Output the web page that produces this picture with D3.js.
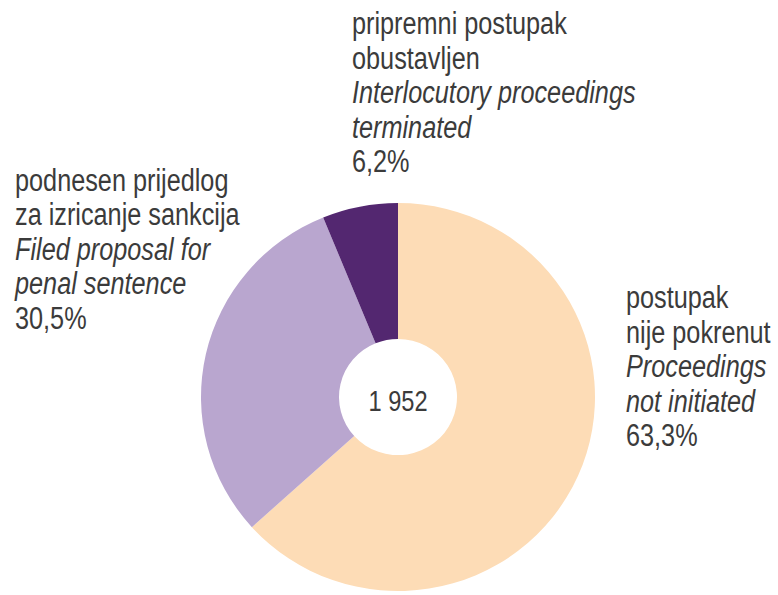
<!DOCTYPE html>
<html>
<head>
<meta charset="utf-8">
<script src="https://cdn.jsdelivr.net/npm/d3@7"></script>
<style>
  body { margin: 0; background: #fff; }
  text { font-family: "Liberation Sans", Arial, sans-serif; fill: #3b3b3b; }
</style>
</head>
<body>
<div id="chart"></div>
<script>
// slice values, clockwise from 12 o'clock
const categories = ["postupak nije pokrenut", "podnesen prijedlog za izricanje sankcija", "pripremni postupak obustavljen"];
const values = [63.3, 30.5, 6.2];
const colors = ["#fddcb6", "#b9a6cf", "#532770"];
const total = "1 952";

// label lines per slice: [text, italic]
const labelLines = [
    [["postupak", false], ["nije pokrenut", false], ["Proceedings", true], ["not initiated", true], ["63,3%", false]],
    [["podnesen prijedlog", false], ["za izricanje sankcija", false], ["Filed proposal for", true], ["penal sentence", true], ["30,5%", false]],
    [["pripremni postupak", false], ["obustavljen", false], ["Interlocutory proceedings", true], ["terminated", true], ["6,2%", false]]
];
const labelPos = [[626, 308], [15, 190.5], [352, 34]];

const width = 778,
    height = 595,
    cx = 398,
    cy = 397,
    outerR = 197,
    innerR = 59,
    lineStep = 34.6,
    squeeze = 0.815;

const svg = d3.select("#chart").append("svg")
    .attr("width", width)
    .attr("height", height);

const pie = d3.pie().sort(null)(values);
const arc = d3.arc().innerRadius(innerR).outerRadius(outerR);

const g = svg.append("g")
    .attr("transform", "translate(" + cx + "," + cy + ") scale(1,0.985)");

g.selectAll("path")
    .data(pie)
    .enter().append("path")
    .attr("d", arc)
    .attr("fill", (d, i) => colors[i]);

svg.append("text")
    .attr("transform", "translate(" + cx + ",411) scale(" + squeeze + ",1)")
    .attr("text-anchor", "middle")
    .style("font-size", "29px")
    .text(total);

const labels = svg.selectAll("g.label")
    .data(labelLines)
    .enter().append("g")
    .attr("class", "label")
    .attr("transform", (d, i) => "translate(" + labelPos[i][0] + "," + labelPos[i][1] + ") scale(" + squeeze + ",1)");

labels.selectAll("text")
    .data(d => d)
    .enter().append("text")
    .attr("x", 0)
    .attr("y", (d, j) => j * lineStep)
    .style("font-size", "31px")
    .style("font-style", d => d[1] ? "italic" : "normal")
    .text(d => d[0]);
</script>
</body>
</html>
